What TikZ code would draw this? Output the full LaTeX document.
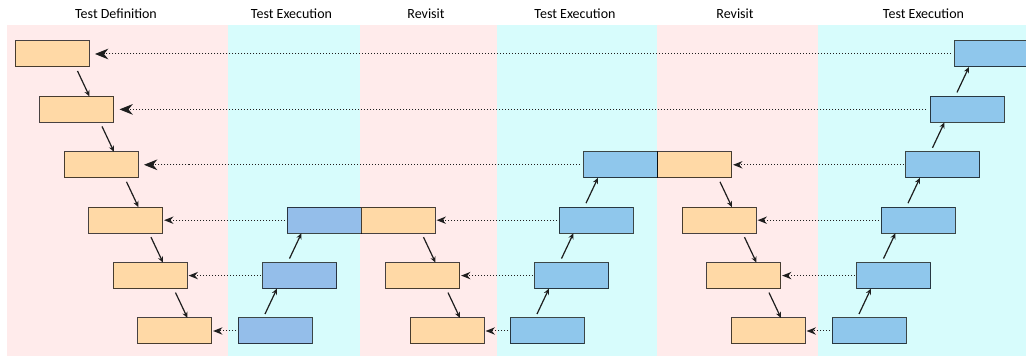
\documentclass[tikz,border=0pt]{standalone}
\usepackage{fontspec}
\setmainfont{Carlito}
\usetikzlibrary{arrows.meta,calc}

\definecolor{pinkband}{HTML}{FFEBEB}
\definecolor{cyanband}{HTML}{D7FCFC}
\definecolor{orangefill}{HTML}{FFD9A6}
\definecolor{bluefillA}{HTML}{94BEEA}
\definecolor{bluefillB}{HTML}{8FC7EC}
\definecolor{inkline}{HTML}{1E1E1E}

\tikzset{
  boxbase/.style={rectangle, anchor=north west, minimum width=55.5pt,
    minimum height=19.5pt, inner sep=0pt, outer sep=0pt,
    draw=black, draw opacity=0.72, line width=0.75pt},
  obox/.style={boxbase, fill=orangefill},
  abox/.style={boxbase, fill=bluefillA},
  bbox/.style={boxbase, fill=bluefillB},
  flow/.style={draw=inkline, line width=0.9pt,
    -{Stealth[length=4.5pt,width=4pt]}},
  back/.style={draw=inkline, line width=0.75pt,
    dash pattern=on 0.75pt off 1.5pt,
    -{Stealth[length=7pt,width=5.5pt]}, shorten <=1.5pt, shorten >=1.2pt},
  longback/.style={back, -{Stealth[length=10pt,width=8pt]},
    shorten <=3pt, shorten >=4.5pt},
  header/.style={anchor=base, font=\fontsize{10.5pt}{12pt}\selectfont, inner sep=0pt}
}

\begin{document}
\begin{tikzpicture}[x=0.75pt,y=-0.75pt]
\useasboundingbox (0,0) rectangle (1026,356);

% phase bands
\fill[pinkband] (7,25) rectangle (228,356);
\fill[cyanband] (228,25) rectangle (360,356);
\fill[pinkband] (360,25) rectangle (497,356);
\fill[cyanband] (497,25) rectangle (657,356);
\fill[pinkband] (657,25) rectangle (818,356);
\fill[cyanband] (818,25) rectangle (1026,356);

% phase headers
\node[header] (h1) at (116,18.3) {Test Definition};
\node[header] (h2) at (291.5,18.3) {Test Execution};
\node[header] (h3) at (426,18.3) {Revisit};
\node[header] (h4) at (575,18.3) {Test Execution};
\node[header] (h5) at (735,18.3) {Revisit};
\node[header] (h6) at (923.5,18.3) {Test Execution};

% test definition
\node[obox] (d1) at (15,41) {};
\node[obox] (d2) at (39.5,96.4) {};
\node[obox] (d3) at (64,151.8) {};
\node[obox] (d4) at (88.5,207.2) {};
\node[obox] (d5) at (113,262.6) {};
\node[obox] (d6) at (137.5,318) {};

% first execution
\node[abox] (a4) at (287,207.2) {};
\node[abox] (a5) at (262.5,262.6) {};
\node[abox] (a6) at (238,318) {};

% first revisit
\node[obox] (r4) at (361,207.2) {};
\node[obox] (r5) at (385.5,262.6) {};
\node[obox] (r6) at (410,318) {};

% second execution
\node[bbox] (b3) at (583.5,151.8) {};
\node[bbox] (b4) at (559,207.2) {};
\node[bbox] (b5) at (534.5,262.6) {};
\node[bbox] (b6) at (510,318) {};

% second revisit
\node[obox] (q3) at (657.5,151.8) {};
\node[obox] (q4) at (682,207.2) {};
\node[obox] (q5) at (706.5,262.6) {};
\node[obox] (q6) at (731,318) {};

% third execution
\node[bbox] (c1) at (954.5,41) {};
\node[bbox] (c2) at (930,96.4) {};
\node[bbox] (c3) at (905.5,151.8) {};
\node[bbox] (c4) at (881,207.2) {};
\node[bbox] (c5) at (856.5,262.6) {};
\node[bbox] (c6) at (832,318) {};

% downward steps
\foreach \u/\v in {d1/d2,d2/d3,d3/d4,d4/d5,d5/d6,r4/r5,r5/r6,q3/q4,q4/q5,q5/q6}
  \draw[flow] ($(\u.south west)+(62.5,4)$) -- ($(\v.north west)+(50,0)$);

% upward steps
\foreach \u/\v in {a6/a5,a5/a4,b6/b5,b5/b4,b4/b3,c6/c5,c5/c4,c4/c3,c3/c2,c2/c1}
  \draw[flow] ($(\u.north west)+(27,-4)$) -- ($(\v.south west)+(14.5,0)$);

% feedback to definition and revisits
\foreach \u/\v in {c1/d1,c2/d2,b3/d3}
  \draw[longback] (\u.west) -- (\v.east);
\foreach \u/\v in {a4/d4,a5/d5,a6/d6,b4/r4,b5/r5,b6/r6,c3/q3,c4/q4,c5/q5,c6/q6}
  \draw[back] (\u.west) -- (\v.east);

\end{tikzpicture}
\end{document}
